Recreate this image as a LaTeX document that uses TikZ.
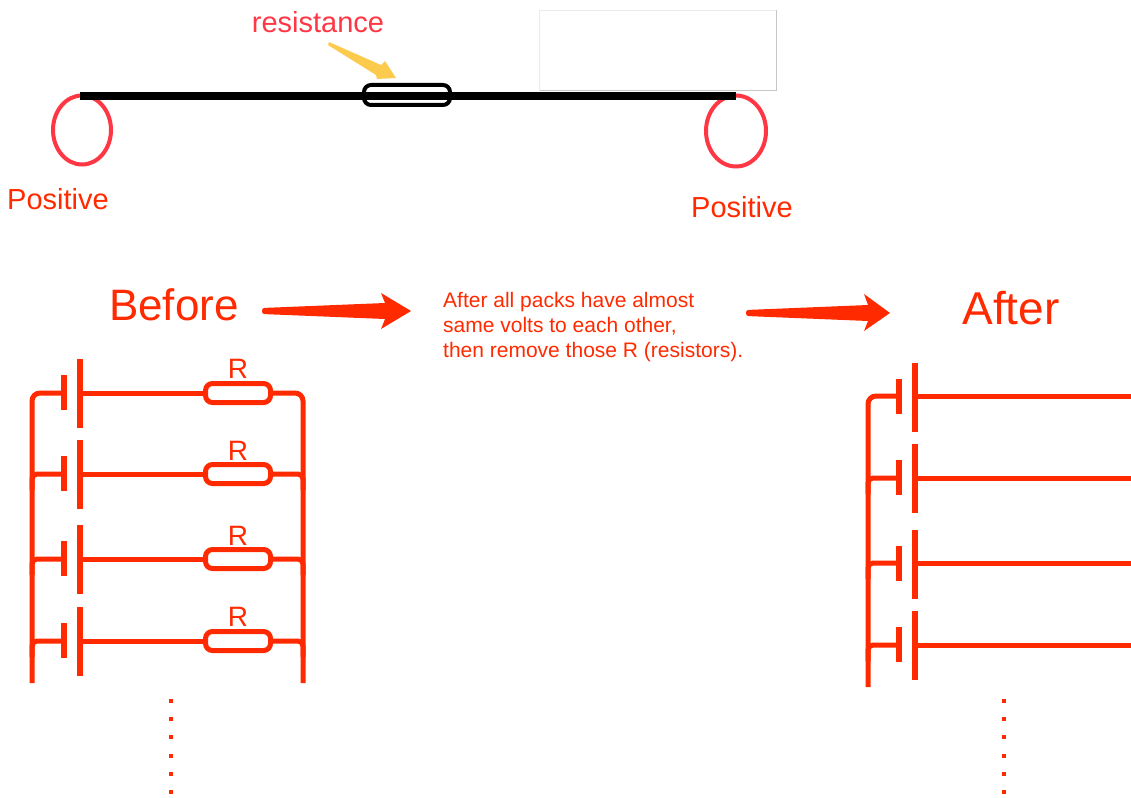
\documentclass[tikz,border=0pt]{standalone}
\usepackage{fontspec}
\setmainfont{Liberation Sans}
\definecolor{wirered}{HTML}{FF2A00}
\definecolor{ringred}{HTML}{FF3644}
\definecolor{pointeryellow}{HTML}{FCCB4E}
\tikzset{
	wire/.style={draw=wirered,line width=5pt},
	plate/.style={draw=wirered,line width=5.5pt},
	resbox/.style={draw=wirered,line width=5pt,rounded corners=7pt,minimum width=65pt,minimum height=19pt,inner sep=0pt},
	ring/.style={draw=ringred,line width=4pt},
	redtext/.style={text=wirered,inner sep=0pt},
}
\begin{document}
\begin{tikzpicture}[x=1pt,y=-1pt]
	\useasboundingbox (0,0) rectangle (1131,797);
	\fill[white] (0,0) rectangle (1131,797);

	% top wire
	\draw[draw=black!8,line width=1pt] (539.5,91) -- (539.5,10.5) -- (776.5,10.5);
	\draw[draw=black!22,line width=1pt] (776.5,10.5) -- (776.5,91) -- (539.5,91);
	\draw[ring] (82,130) ellipse (29 and 34.5);
	\draw[ring] (736,131) ellipse (30 and 35.5);
	\node[draw=black,line width=4pt,rounded corners=7pt,minimum width=86pt,minimum height=20pt,inner sep=0pt] (load) at (407,95) {};
	\coordinate (wireL) at (80,96);
	\coordinate (wireR) at (736,96);
	\draw[line width=8pt] (wireL) -- (wireR);
	\fill[pointeryellow] (329,42) -- (381,65) -- (385,61) -- (396,78) -- (377,79) -- (376,75) -- (328,45) -- cycle;
	\node[text=ringred,font=\fontsize{29}{33}\selectfont,inner sep=0pt] (resistance) at (318,22) {resistance};
	\node[redtext,font=\fontsize{29}{33}\selectfont] (posL) at (58,199) {Positive};
	\node[redtext,font=\fontsize{29}{33}\selectfont] (posR) at (742,207) {Positive};

	% headings
	\node[redtext,font=\fontsize{44}{48}\selectfont] (before) at (174,305) {Before};
	\node[redtext,font=\fontsize{46}{50}\selectfont] (after) at (1011,308) {After};
	\node[redtext,font=\fontsize{21}{25}\selectfont,align=left,anchor=west] (note) at (443,327) {After all packs have almost\\same volts to each other,\\then remove those R (resistors).};
	\fill[wirered] (385,303) -- (381,293) -- (411,311) -- (381,329) -- (385,319) [rounded corners=2.5pt] -- (262,314) -- (262,308) [sharp corners] -- cycle;
	\fill[wirered] (868,305) -- (864,294) -- (890,313) -- (864,331) -- (868,321) [rounded corners=2.5pt] -- (746,316) -- (746,310) [sharp corners] -- cycle;

	% before
	\coordinate (busAend) at (32,683);
	\coordinate (busBend) at (303,683);
	\node[resbox] (resA) at (238,393) {};
	\node[resbox] (resB) at (238,474) {};
	\node[resbox] (resC) at (238,559) {};
	\node[resbox] (resD) at (238,641) {};
	\draw[wire,rounded corners=8pt] (64,393) -| (busAend);
	\draw[wire,rounded corners=8pt] (resA.east) -| (busBend);
	\draw[wire,rounded corners=5pt] (resB.east) -| (303,490);
	\draw[wire,rounded corners=5pt] (resC.east) -| (303,575);
	\draw[wire,rounded corners=5pt] (resD.east) -| (303,657);
	\draw[wire,rounded corners=5pt] (64,474) -| (32,490);
	\draw[wire,rounded corners=5pt] (64,559) -| (32,575);
	\draw[wire,rounded corners=5pt] (64,641) -| (32,657);
	\draw[wire] (80,393) -- (resA.west);
	\draw[wire] (80,474) -- (resB.west);
	\draw[wire] (80,559) -- (resC.west);
	\draw[wire] (80,641) -- (resD.west);
	\draw[plate] (64,375) -- (64,410);
	\draw[plate] (64,456) -- (64,491);
	\draw[plate] (64,541) -- (64,576);
	\draw[plate] (64,623) -- (64,658);
	\draw[plate] (80,359) -- (80,428);
	\draw[plate] (80,440) -- (80,509);
	\draw[plate] (80,525) -- (80,594);
	\draw[plate] (80,607) -- (80,676);
	\node[redtext,font=\fontsize{28}{32}\selectfont] (labA) at (238,369) {R};
	\node[redtext,font=\fontsize{28}{32}\selectfont] (labB) at (238,451) {R};
	\node[redtext,font=\fontsize{28}{32}\selectfont] (labC) at (238,536) {R};
	\node[redtext,font=\fontsize{28}{32}\selectfont] (labD) at (238,617) {R};

	% after
	\coordinate (busCend) at (868,687);
	\draw[wire,rounded corners=8pt] (899,396) -| (busCend);
	\draw[wire,rounded corners=5pt] (899,478) -| (868,494);
	\draw[wire,rounded corners=5pt] (899,563) -| (868,579);
	\draw[wire,rounded corners=5pt] (899,645) -| (868,661);
	\draw[wire] (915,396) -- (1131,396);
	\draw[wire] (915,478) -- (1131,478);
	\draw[wire] (915,563) -- (1131,563);
	\draw[wire] (915,645) -- (1131,645);
	\draw[plate] (899,379) -- (899,414);
	\draw[plate] (899,460) -- (899,495);
	\draw[plate] (899,546) -- (899,581);
	\draw[plate] (899,627) -- (899,662);
	\draw[plate] (915,363) -- (915,432);
	\draw[plate] (915,444) -- (915,513);
	\draw[plate] (915,530) -- (915,599);
	\draw[plate] (915,611) -- (915,680);

	% dots
	\draw[wirered,line width=4pt,dash pattern=on 4pt off 14.2pt] (171,699) -- (171,795);
	\draw[wirered,line width=4pt,dash pattern=on 4pt off 14.2pt] (1004,699) -- (1004,795);
\end{tikzpicture}
\end{document}
